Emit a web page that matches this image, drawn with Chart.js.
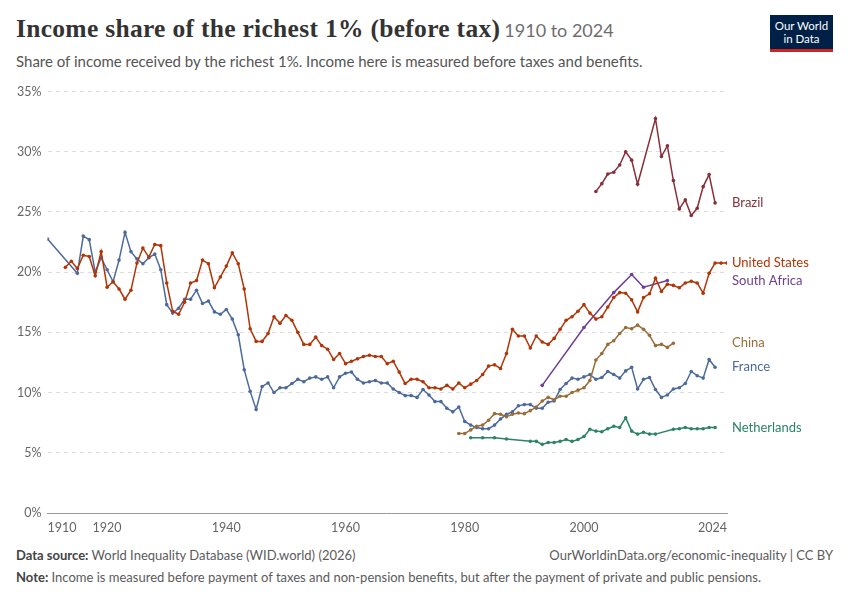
<!DOCTYPE html>
<html>
<head>
<meta charset="utf-8">
<script src="https://cdn.jsdelivr.net/npm/chart.js@4"></script>
<style>
  body { margin: 0; background: #fff; font-family: Lato, "Noto Sans", sans-serif; }
  #wrap { position: relative; width: 850px; height: 600px; overflow: hidden; }
  h1 { position: absolute; left: 16px; top: 14px; margin: 0; font: bold 25.5px "Liberation Serif", "DejaVu Serif", serif; color: #333; letter-spacing: 0.3px; }
  h1 span { font: 18px Lato, sans-serif; color: #6e6e6e; margin-left: 4px; letter-spacing: 0; }
  .sub { position: absolute; left: 16px; top: 52px; font-size: 15px; color: #555; }
  .logo { position: absolute; left: 770px; top: 15px; width: 63px; height: 37px; background: #002147; color: #fff; font-size: 11.5px; line-height: 13px; text-align: center; padding-top: 4px; box-sizing: border-box; border-bottom: 3px solid #ce261e; }
  .chart { position: absolute; left: 0; top: 78px; width: 850px; height: 459px; }
  .foot { position: absolute; left: 16px; font-size: 13px; color: #5b5b5b; }
  .foot b { color: #444; }
</style>
</head>
<body>
<div id="wrap">
  <h1>Income share of the richest 1% (before tax)<span>1910 to 2024</span></h1>
  <div class="sub">Share of income received by the richest 1%. Income here is measured before taxes and benefits.</div>
  <div class="logo">Our World<br>in Data</div>
  <div class="chart"><canvas id="c"></canvas></div>
  <div class="foot" style="top:547px"><b>Data source:</b> World Inequality Database (WID.world) (2026)</div>
  <div class="foot" style="top:547px;left:auto;right:17px">OurWorldinData.org/economic-inequality | CC BY</div>
  <div class="foot" style="top:569px"><b>Note:</b> Income is measured before payment of taxes and non-pension benefits, but after the payment of private and public pensions.</div>
</div>
<script>
function range(a, b) { const r = []; for (let y = a; y <= b; y++) r.push(y); return r; }

const yTicks = [0, 5, 10, 15, 20, 25, 30, 35];
const xTicks = [1910, 1920, 1940, 1960, 1980, 2000, 2024];

const franceYears = [1910].concat(range(1915, 2022));
const franceValues = [22.75,
  19.9,23.0,22.7,20.0,21.2,20.2,19.2,21.0,23.3,21.7,21.1,20.7,21.2,21.5,20.2,17.3,16.6,17.0,17.75,17.75,18.5,17.4,17.6,16.7,16.5,16.9,16.1,14.8,11.9,10.1,8.6,10.5,10.8,10.0,10.4,10.4,
  10.75,11.1,10.9,11.2,11.3,11.1,11.3,10.4,11.3,11.6,11.7,11.1,10.8,10.9,11.0,10.8,10.8,10.3,10.0,9.75,9.75,9.6,10.25,9.8,9.25,9.25,8.7,8.4,8.8,7.6,7.3,7.1,7.0,7.0,7.3,7.8,8.2,8.4,8.9,9.0,9.0,8.7,8.7,9.2,9.3,10.25,10.75,
  11.2,11.1,11.3,11.5,11.1,11.25,11.75,11.5,11.2,11.8,12.1,10.3,11.1,11.25,10.25,9.6,9.8,10.3,10.4,10.75,11.75,11.4,11.2,12.75,12.1];

const usYears = range(1913, 2024);
const usValues = [
  20.4,20.9,20.3,21.4,21.3,19.7,21.7,18.75,19.2,18.6,17.75,18.5,20.75,22.0,21.25,22.3,22.2,19.1,16.75,16.5,17.5,19.1,19.3,21.0,20.7,18.7,19.6,20.5,21.6,20.7,18.6,15.3,14.25,14.25,14.9,16.3,15.75,16.4,
  16.0,15.0,14.0,14.0,14.6,13.9,13.6,12.75,13.25,12.4,12.6,12.8,13.0,13.1,13.0,13.0,12.4,12.6,11.7,10.75,11.1,11.1,10.9,10.4,10.4,10.3,10.6,10.3,10.8,10.4,10.7,11.0,11.5,12.2,12.3,12.0,13.25,15.25,14.7,14.7,13.7,14.7,14.2,14.0,14.5,
  15.25,16.0,16.3,16.75,17.3,16.6,16.1,16.3,17.1,17.9,18.3,18.25,17.7,16.7,17.9,18.2,19.5,18.4,19.0,18.9,18.7,19.1,19.25,19.1,18.25,19.9,20.75,20.75,20.75];

const brazilYears = range(2002, 2009).concat(range(2012, 2022));
const brazilValues = [26.7,27.35,28.15,28.3,28.9,30.0,29.3,27.3, 32.75,29.6,30.5,27.6,25.25,26.0,24.7,25.3,27.1,28.1,25.75];

const southAfricaYears = [1993, 2000, 2005, 2008, 2010, 2014];
const southAfricaValues = [10.6, 15.4, 18.3, 19.8, 18.75, 19.3];

const chinaYears = range(1979, 2015);
const chinaValues = [6.6,6.6,6.9,7.2,7.3,7.7,8.25,8.2,8.0,8.2,8.3,8.25,8.5,8.8,9.3,9.6,9.4,9.7,9.7,
  10.0,10.2,10.4,11.0,12.7,13.25,14.0,14.3,14.9,15.4,15.3,15.6,15.25,14.75,13.9,14.0,13.75,14.1];

const netherlandsYears = [1981, 1983, 1985, 1987].concat(range(1991, 2012), range(2015, 2022));
const netherlandsValues = [6.25,6.25,6.25,6.15,
  5.95,5.95,5.7,5.85,5.85,5.95,6.1,5.95,6.1,6.35,6.95,6.8,6.75,7.0,7.2,7.1,7.9,6.8,6.55,6.7,6.55,6.55,
  6.95,7.0,7.1,7.0,7.0,7.0,7.1,7.1];

const series = [
  { name: 'Brazil', years: brazilYears, values: brazilValues, color: '#883039' },
  { name: 'United States', years: usYears, values: usValues, color: '#b13507' },
  { name: 'South Africa', years: southAfricaYears, values: southAfricaValues, color: '#6d3e91' },
  { name: 'China', years: chinaYears, values: chinaValues, color: '#996d39' },
  { name: 'France', years: franceYears, values: franceValues, color: '#4c6a9c' },
  { name: 'Netherlands', years: netherlandsYears, values: netherlandsValues, color: '#2c8465' },
];

const endLabels = {
  id: 'endLabels',
  afterDatasetsDraw(chart) {
    const { ctx, scales } = chart;
    ctx.save();
    ctx.font = '13px Lato, sans-serif';
    ctx.textBaseline = 'middle';
    series.forEach(s => {
      const v = s.values[s.values.length - 1];
      ctx.fillStyle = s.color;
      ctx.fillText(s.name, 732, scales.y.getPixelForValue(v));
    });
    ctx.restore();
  },
};

new Chart(document.getElementById('c'), {
  type: 'line',
  data: {
    datasets: series.map(s => ({
      label: s.name,
      data: s.years.map((y, i) => ({ x: y, y: s.values[i] })),
      borderColor: s.color,
      backgroundColor: s.color,
      borderWidth: 1.5,
      pointRadius: 1.8,
      pointBorderWidth: 0,
      tension: 0,
    })),
  },
  options: {
    responsive: true,
    maintainAspectRatio: false,
    animation: false,
    layout: { padding: { left: 11, right: 123, top: 4, bottom: 0 } },
    plugins: { legend: { display: false }, tooltip: { enabled: false } },
    scales: {
      x: {
        type: 'linear', min: 1910, max: 2024,
        afterBuildTicks: ax => { ax.ticks = xTicks.map(v => ({ value: v })); },
        ticks: { color: '#666', font: { size: 12.5, family: 'Lato' }, autoSkip: false, maxRotation: 0, align: 'inner', callback: v => String(v), padding: 2 },
        grid: { display: false, drawTicks: true, tickLength: 5, tickColor: '#999' },
        border: { color: '#999' },
      },
      y: {
        min: 0, max: 35,
        afterBuildTicks: ax => { ax.ticks = yTicks.map(v => ({ value: v })); },
        ticks: { color: '#666', font: { size: 12.5, family: 'Lato' }, callback: v => v + '%', padding: 6 },
        grid: { color: ctx => ctx.tick.value === 0 ? 'rgba(0,0,0,0)' : '#ddd', borderDash: [4, 4], drawTicks: false },
        border: { display: false, dash: [4, 4] },
      },
    },
  },
  plugins: [endLabels],
});
</script>
</body>
</html>
